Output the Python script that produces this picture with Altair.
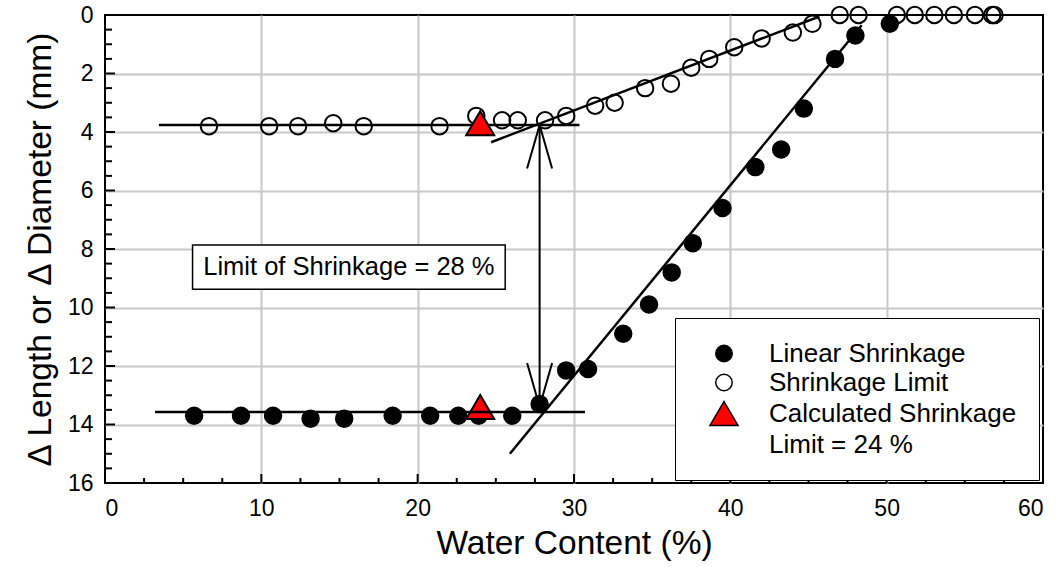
import altair as alt
import pandas as pd

FONT = "Liberation Sans"

# ---- data ----
ls_x = [5.7, 8.7, 10.75, 13.15, 15.3, 18.4, 20.8, 22.6, 23.9, 26.05, 27.8, 29.5, 30.9,
        33.15, 34.8, 36.25, 37.6, 39.5, 41.6, 43.25, 44.7, 46.7, 48.0, 50.2]
ls_y = [13.7, 13.7, 13.7, 13.8, 13.8, 13.7, 13.7, 13.7, 13.7, 13.7, 13.3, 12.15, 12.1,
        10.9, 9.9, 8.8, 7.8, 6.6, 5.2, 4.6, 3.2, 1.5, 0.7, 0.3]

sl_x = [6.65, 10.5, 12.35, 14.6, 16.55, 21.4, 23.75, 25.4, 26.4, 28.15, 29.5, 31.35, 32.6,
        34.55, 36.2, 37.5, 38.65, 40.25, 42.0, 44.0, 45.25, 47.0, 48.2, 50.65, 51.8, 53.05,
        54.3, 55.65, 56.75, 56.9]
sl_y = [3.8, 3.8, 3.8, 3.7, 3.8, 3.8, 3.45, 3.6, 3.6, 3.6, 3.45, 3.1, 3.0,
        2.5, 2.35, 1.8, 1.5, 1.1, 0.8, 0.6, 0.3, 0.0, 0.0, 0.0, 0.0, 0.0,
        0.0, 0.0, 0.0, 0.0]

tri_x = [24.0, 24.0]
tri_y = [3.7, 13.4]

series_names = ["Linear Shrinkage", "Shrinkage Limit", "Calculated Shrinkage", "Limit = 24 %"]

# fitted lines (upper pair drawn under the points, lower pair over them)
up_x1 = [3.45, 24.7]
up_y1 = [3.76, 4.35]
up_x2 = [30.35, 45.7]
up_y2 = [3.76, 0.05]

lo_x1 = [3.2, 25.9]
lo_y1 = [13.57, 15.0]
lo_x2 = [30.7, 48.4]
lo_y2 = [13.57, 0.35]

# double arrow at the limit of shrinkage
ar_x1 = [27.8, 27.8, 27.8, 27.8, 27.8]
ar_y1 = [3.76, 3.76, 3.76, 13.39, 13.39]
ar_x2 = [27.8, 27.0, 28.6, 27.0, 28.6]
ar_y2 = [13.39, 5.25, 5.25, 11.9, 11.9]

# annotation box
box_x1 = [5.6]
box_x2 = [25.6]
box_y1 = [7.86]
box_y2 = [9.38]
box_text = ["Limit of Shrinkage = 28 %"]

# axis ticks
x_major = [0, 10, 20, 30, 40, 50, 60]
y_major = [0, 2, 4, 6, 8, 10, 12, 14, 16]
x_minor = [2.5, 5, 7.5, 12.5, 15, 17.5, 22.5, 25, 27.5, 32.5, 35, 37.5, 42.5, 45, 47.5, 52.5, 55, 57.5]
x_inner_major = [10, 20, 30, 40, 50]
y_minor = [0.5, 1, 1.5, 2.5, 3, 3.5, 4.5, 5, 5.5, 6.5, 7, 7.5, 8.5, 9, 9.5, 10.5, 11, 11.5,
           12.5, 13, 13.5, 14.5, 15, 15.5]
y_inner_major = [2, 4, 6, 8, 10, 12, 14]

W, H = 938, 468

pts = pd.concat([
    pd.DataFrame({"x": ls_x, "y": ls_y, "series": series_names[0]}),
    pd.DataFrame({"x": sl_x, "y": sl_y, "series": series_names[1]}),
    pd.DataFrame({"x": tri_x, "y": tri_y, "series": series_names[2]}),
], ignore_index=True)

up_df = pd.DataFrame({"x": up_x1, "y": up_y1, "x2": up_x2, "y2": up_y2})
lo_df = pd.DataFrame({"x": lo_x1, "y": lo_y1, "x2": lo_x2, "y2": lo_y2})
ar_df = pd.DataFrame({"x": ar_x1, "y": ar_y1, "x2": ar_x2, "y2": ar_y2})
box_df = pd.DataFrame({"x": box_x1, "x2": box_x2, "y": box_y1, "y2": box_y2,
                       "xc": [(a + b) / 2 for a, b in zip(box_x1, box_x2)],
                       "yc": [(a + b) / 2 for a, b in zip(box_y1, box_y2)],
                       "t": box_text})

xs = alt.Scale(domain=[0, 60], nice=False, zero=False)
ys = alt.Scale(domain=[0, 16], reverse=True, nice=False, zero=False)

TRI = "M0,-1.45L1.7,1.45L-1.7,1.45Z"

legend = alt.Legend(title=None, orient="none", legendX=570, legendY=303,
                    fillColor="white", strokeColor="black", padding=22.5,
                    labelFontSize=26, labelFont=FONT, labelColor="black", labelLimit=500,
                    symbolSize=272, symbolStrokeWidth=1.5, rowPadding=3,
                    labelOffset=32, symbolOffset=13.5)

edge_x = {"condition": {"test": "datum.value <= 0 || datum.value >= 60", "value": 0}, "value": 1}
edge_y = {"condition": {"test": "datum.value <= 0 || datum.value >= 16", "value": 0}, "value": 1}

xaxis = alt.Axis(values=x_major, grid=True, ticks=False, domain=False, gridOpacity=edge_x,
                 labelFontSize=23, labelPadding=14, title="Water Content (%)",
                 titleFontSize=33.5, titlePadding=7)
yaxis = alt.Axis(values=y_major, grid=True, ticks=False, domain=False, gridOpacity=edge_y,
                 labelFontSize=23, labelPadding=12, title="\u0394 Length or \u0394 Diameter (mm)",
                 titleFontSize=33.5, titlePadding=10)


def X(f):
    return alt.X(f, scale=xs, axis=xaxis)


def Y(f):
    return alt.Y(f, scale=ys, axis=yaxis)


# inward ticks
xt_min = alt.Chart(pd.DataFrame({"x": x_minor})).mark_rule(color="black", strokeWidth=2).encode(
    x=X("x:Q"), y=alt.value(H), y2=alt.value(H - 5))
xt_maj = alt.Chart(pd.DataFrame({"x": x_inner_major})).mark_rule(color="black", strokeWidth=2).encode(
    x=X("x:Q"), y=alt.value(H), y2=alt.value(H - 9))
yt_min = alt.Chart(pd.DataFrame({"y": y_minor})).mark_rule(color="black", strokeWidth=2).encode(
    y=Y("y:Q"), x=alt.value(0), x2=alt.value(7))
yt_maj = alt.Chart(pd.DataFrame({"y": y_inner_major})).mark_rule(color="black", strokeWidth=2).encode(
    y=Y("y:Q"), x=alt.value(0), x2=alt.value(10))

up_lines = alt.Chart(up_df).mark_rule(color="black", strokeWidth=2.5).encode(
    x=X("x:Q"), x2="x2:Q", y=Y("y:Q"), y2="y2:Q")
lo_lines = alt.Chart(lo_df).mark_rule(color="black", strokeWidth=2.5).encode(
    x=X("x:Q"), x2="x2:Q", y=Y("y:Q"), y2="y2:Q")
arrows = alt.Chart(ar_df).mark_rule(color="black", strokeWidth=2).encode(
    x=X("x:Q"), x2="x2:Q", y=Y("y:Q"), y2="y2:Q")

points = alt.Chart(pts).mark_point(size=272, strokeWidth=2, opacity=1, filled=False).encode(
    x=X("x:Q"),
    y=Y("y:Q"),
    shape=alt.Shape("series:N", scale=alt.Scale(domain=series_names,
                    range=["circle", "circle", TRI, "circle"]), legend=legend),
    fill=alt.Fill("series:N", scale=alt.Scale(domain=series_names,
                  range=["black", "transparent", "red", "transparent"]), legend=legend),
    stroke=alt.Stroke("series:N", scale=alt.Scale(domain=series_names,
                      range=["black", "black", "black", "transparent"]), legend=legend),
)

box = alt.Chart(box_df).mark_rect(fill="white", stroke="black", strokeWidth=1.5).encode(
    x=X("x:Q"), x2="x2:Q", y=Y("y:Q"), y2="y2:Q")
box_t = alt.Chart(box_df).mark_text(font=FONT, fontSize=25.5, color="black",
                                    align="center", baseline="middle").encode(
    x=X("xc:Q"), y=Y("yc:Q"), text="t:N")

chart = alt.layer(
    xt_min, xt_maj, yt_min, yt_maj, up_lines, points, lo_lines, arrows, box, box_t
).properties(
    width=W, height=H, autosize="none", background="white",
    padding={"left": 105, "top": 15, "right": 20, "bottom": 84},
).configure_view(
    stroke="black", strokeWidth=2
).configure_axis(
    labelFont=FONT, titleFont=FONT, labelColor="black", titleColor="black",
    titleFontWeight="normal", gridColor="#c8c8c8", gridWidth=2
)

chart.save("out.html", embed_options={"renderer": "svg", "actions": False})
